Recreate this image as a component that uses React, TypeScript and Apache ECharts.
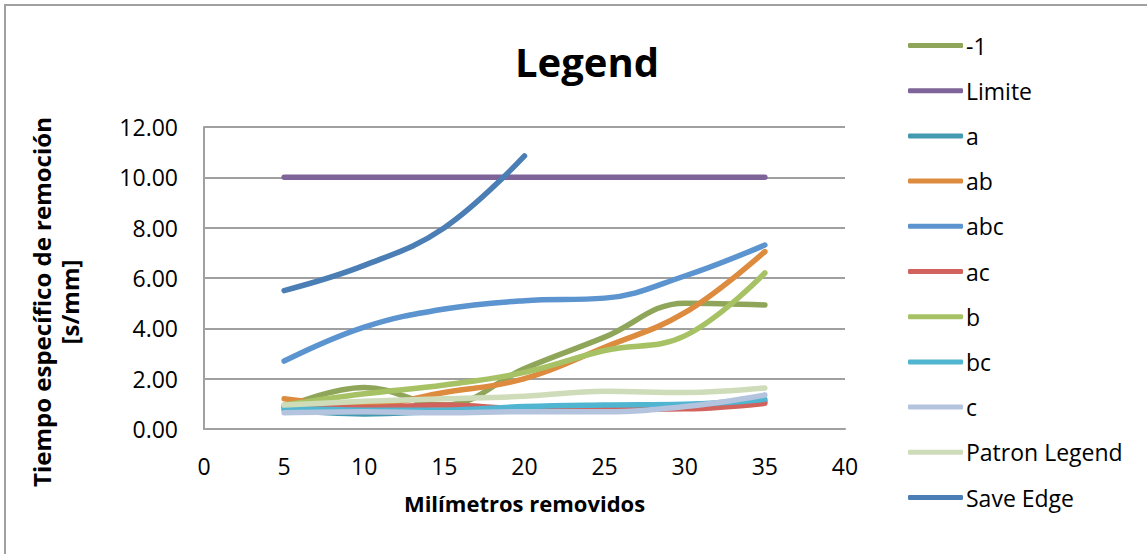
import React, { useEffect, useRef } from "react";
import * as echarts from "echarts";

const xValues = [5, 10, 15, 20, 25, 30, 35];
const seriesNames = ["-1", "Limite", "a", "ab", "abc", "ac", "b", "bc", "c", "Patron Legend", "Save Edge"];
const seriesColors = ["#8fa65a", "#7e6499", "#4299b0", "#dc8b3f", "#5b94cf", "#d1625c", "#a7c265", "#50b5d0", "#b4c3de", "#cfdcb9", "#4a7eb4"];

const minusOne = [0.85, 1.65, 0.95, 2.4, 3.65, 5.0, 4.93];
const limite = [10, 10, 10, 10, 10, 10, 10];
const serieA = [0.75, 0.6, 0.7, 0.8, 0.9, 0.95, 1.1];
const serieAB = [1.2, 0.95, 1.45, 2.0, 3.25, 4.62, 7.05];
const serieABC = [2.7, 4.05, 4.77, 5.1, 5.2, 6.08, 7.31];
const serieAC = [0.9, 0.85, 0.95, 0.8, 0.78, 0.8, 1.02];
const serieB = [0.95, 1.4, 1.75, 2.25, 3.12, 3.7, 6.2];
const serieBC = [0.82, 0.75, 0.75, 0.89, 0.95, 0.98, 1.18];
const serieC = [0.65, 0.69, 0.65, 0.69, 0.69, 0.89, 1.35];
const patron = [0.95, 1.1, 1.2, 1.3, 1.5, 1.45, 1.63];
const saveEdge = [5.5, 6.5, 8.0, 10.85];

const seriesData = [minusOne, limite, serieA, serieAB, serieABC, serieAC, serieB, serieBC, serieC, patron, saveEdge];

const yAxisTitle = "Tiempo específico de remoción\n[s/mm]";
const xAxisTitle = "Milímetros removidos";
const chartTitle = "Legend";

const FONT = "Open Sans";

export default function App() {
  const ref = useRef<HTMLDivElement>(null);
  useEffect(() => {
    if (!ref.current) return;
    const chart = echarts.init(ref.current, undefined, { renderer: "svg" });
    const series = seriesNames.map((name, i) => ({
      name,
      type: "line",
      data: seriesData[i].map((v, j) => [xValues[j], v]),
      smooth: 0.4,
      showSymbol: false,
      symbol: "none",
      lineStyle: { width: 5.5, color: seriesColors[i], cap: "round", join: "round" },
      itemStyle: { color: seriesColors[i] },
      z: 2,
    }));
    chart.setOption({
      animation: false,
      textStyle: { fontFamily: FONT },
      title: {
        text: chartTitle,
        left: 582,
        top: 36,
        textAlign: "center",
        textStyle: { fontFamily: FONT, fontSize: 40, fontWeight: "bold", color: "#000" },
      },
      legend: {
        orient: "vertical",
        left: 903,
        top: 27,
        icon: "roundRect",
        itemWidth: 55,
        itemHeight: 5,
        itemGap: 18.2,
        data: seriesNames,
        textStyle: { fontFamily: FONT, fontSize: 23, color: "#000", lineHeight: 27, padding: [0, 0, 0, -2] },
      },
      grid: { left: 204, top: 127, right: 302, bottom: 125, containLabel: false },
      xAxis: {
        type: "value",
        min: 0,
        max: 40,
        interval: 5,
        name: xAxisTitle,
        nameLocation: "middle",
        nameGap: 63,
        nameTextStyle: { fontFamily: FONT, fontSize: 22, fontWeight: "bold", color: "#000" },
        axisLine: { show: true, lineStyle: { color: "#a0a0a0", width: 2 } },
        axisTick: { show: false },
        splitLine: { show: false },
        axisLabel: { fontFamily: FONT, fontSize: 23, color: "#000", margin: 25 },
      },
      yAxis: {
        type: "value",
        min: 0,
        max: 12,
        interval: 2,
        axisLine: { show: true, lineStyle: { color: "#a0a0a0", width: 2 } },
        axisTick: { show: false },
        splitLine: { show: true, lineStyle: { color: "#a0a0a0", width: 2 } },
        axisLabel: { fontFamily: FONT, fontSize: 23, color: "#000", margin: 26, formatter: (v: number) => v.toFixed(2) },
      },
      graphic: [
        {
          type: "rect",
          shape: { x: 5, y: 5, width: 1160, height: 570 },
          style: { fill: "none", stroke: "#a0a0a0", lineWidth: 2 },
          silent: true,
        },
        {
          type: "text",
          x: 55,
          y: 302,
          rotation: Math.PI / 2,
          style: {
            text: yAxisTitle,
            fontFamily: FONT,
            fontSize: 24,
            fontWeight: "bold",
            lineHeight: 28,
            fill: "#000",
            align: "center",
            verticalAlign: "middle",
          },
          silent: true,
        },
      ],
      series,
    });
    return () => chart.dispose();
  }, []);
  return <div ref={ref} style={{ position: "absolute", left: 0, top: 0, width: 1147, height: 554 }} />;
}
